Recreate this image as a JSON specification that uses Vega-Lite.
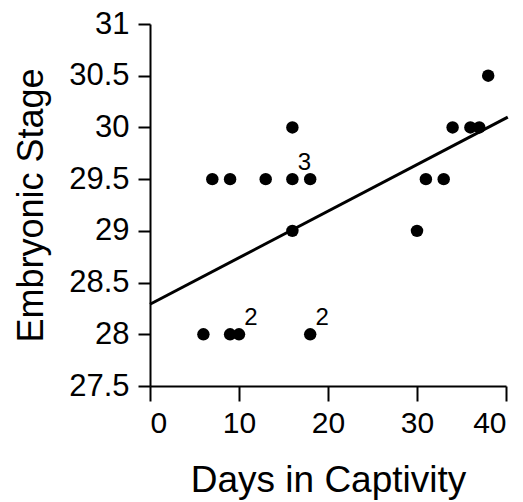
{
  "$schema": "https://vega.github.io/schema/vega-lite/v6.json",
  "autosize": "none",
  "width": 356,
  "height": 362,
  "padding": {"left": 150, "top": 24, "right": 17, "bottom": 116},
  "background": "white",
  "config": {
    "view": {"stroke": null},
    "font": "Liberation Sans",
    "axis": {
      "grid": false,
      "domainColor": "black",
      "domainWidth": 2,
      "tickColor": "black",
      "tickWidth": 2,
      "labelColor": "black",
      "titleColor": "black",
      "labelFont": "Liberation Sans",
      "titleFont": "Liberation Sans",
      "titleFontWeight": "normal"
    }
  },
  "datasets": {
    "points": [
      {"days": 6, "stage": 28, "n": 1},
      {"days": 9, "stage": 28, "n": 1},
      {"days": 10, "stage": 28, "n": 2},
      {"days": 18, "stage": 28, "n": 2},
      {"days": 7, "stage": 29.5, "n": 1},
      {"days": 9, "stage": 29.5, "n": 1},
      {"days": 13, "stage": 29.5, "n": 1},
      {"days": 16, "stage": 29.5, "n": 3},
      {"days": 18, "stage": 29.5, "n": 1},
      {"days": 16, "stage": 30, "n": 1},
      {"days": 16, "stage": 29, "n": 1},
      {"days": 30, "stage": 29, "n": 1},
      {"days": 31, "stage": 29.5, "n": 1},
      {"days": 33, "stage": 29.5, "n": 1},
      {"days": 34, "stage": 30, "n": 1},
      {"days": 36, "stage": 30, "n": 1},
      {"days": 37, "stage": 30, "n": 1},
      {"days": 38, "stage": 30.5, "n": 1}
    ],
    "fit": [
      {"days": 0, "stage": 28.29},
      {"days": 40.2, "stage": 30.1}
    ]
  },
  "layer": [
    {
      "data": {"name": "fit"},
      "mark": {"type": "line", "color": "black", "strokeWidth": 3},
      "encoding": {
        "x": {
          "field": "days", "type": "quantitative",
          "scale": {"domain": [0, 40], "nice": false},
          "axis": {
            "values": [0, 10, 20, 30, 40],
            "title": "Days in Captivity",
            "labelFontSize": 30,
            "titleFontSize": 37,
            "tickSize": 15,
            "labelPadding": 7,
            "titlePadding": 24
          }
        },
        "y": {
          "field": "stage", "type": "quantitative",
          "scale": {"domain": [27.5, 31], "nice": false, "zero": false},
          "axis": {
            "values": [27.5, 28, 28.5, 29, 29.5, 30, 30.5, 31],
            "format": ".1~f",
            "title": "Embryonic Stage",
            "labelFontSize": 31,
            "titleFontSize": 36,
            "tickSize": 12,
            "labelPadding": 9,
            "titlePadding": 18
          }
        }
      }
    },
    {
      "data": {"name": "points"},
      "mark": {"type": "circle", "color": "black", "opacity": 1, "size": 155},
      "encoding": {
        "x": {"field": "days", "type": "quantitative"},
        "y": {"field": "stage", "type": "quantitative"}
      }
    },
    {
      "data": {"name": "points"},
      "transform": [{"filter": "datum.n > 1"}],
      "mark": {"type": "text", "fontSize": 24, "dx": 12, "dy": -16, "color": "black", "align": "center", "baseline": "middle"},
      "encoding": {
        "x": {"field": "days", "type": "quantitative"},
        "y": {"field": "stage", "type": "quantitative"},
        "text": {"field": "n", "type": "quantitative"}
      }
    }
  ]
}
